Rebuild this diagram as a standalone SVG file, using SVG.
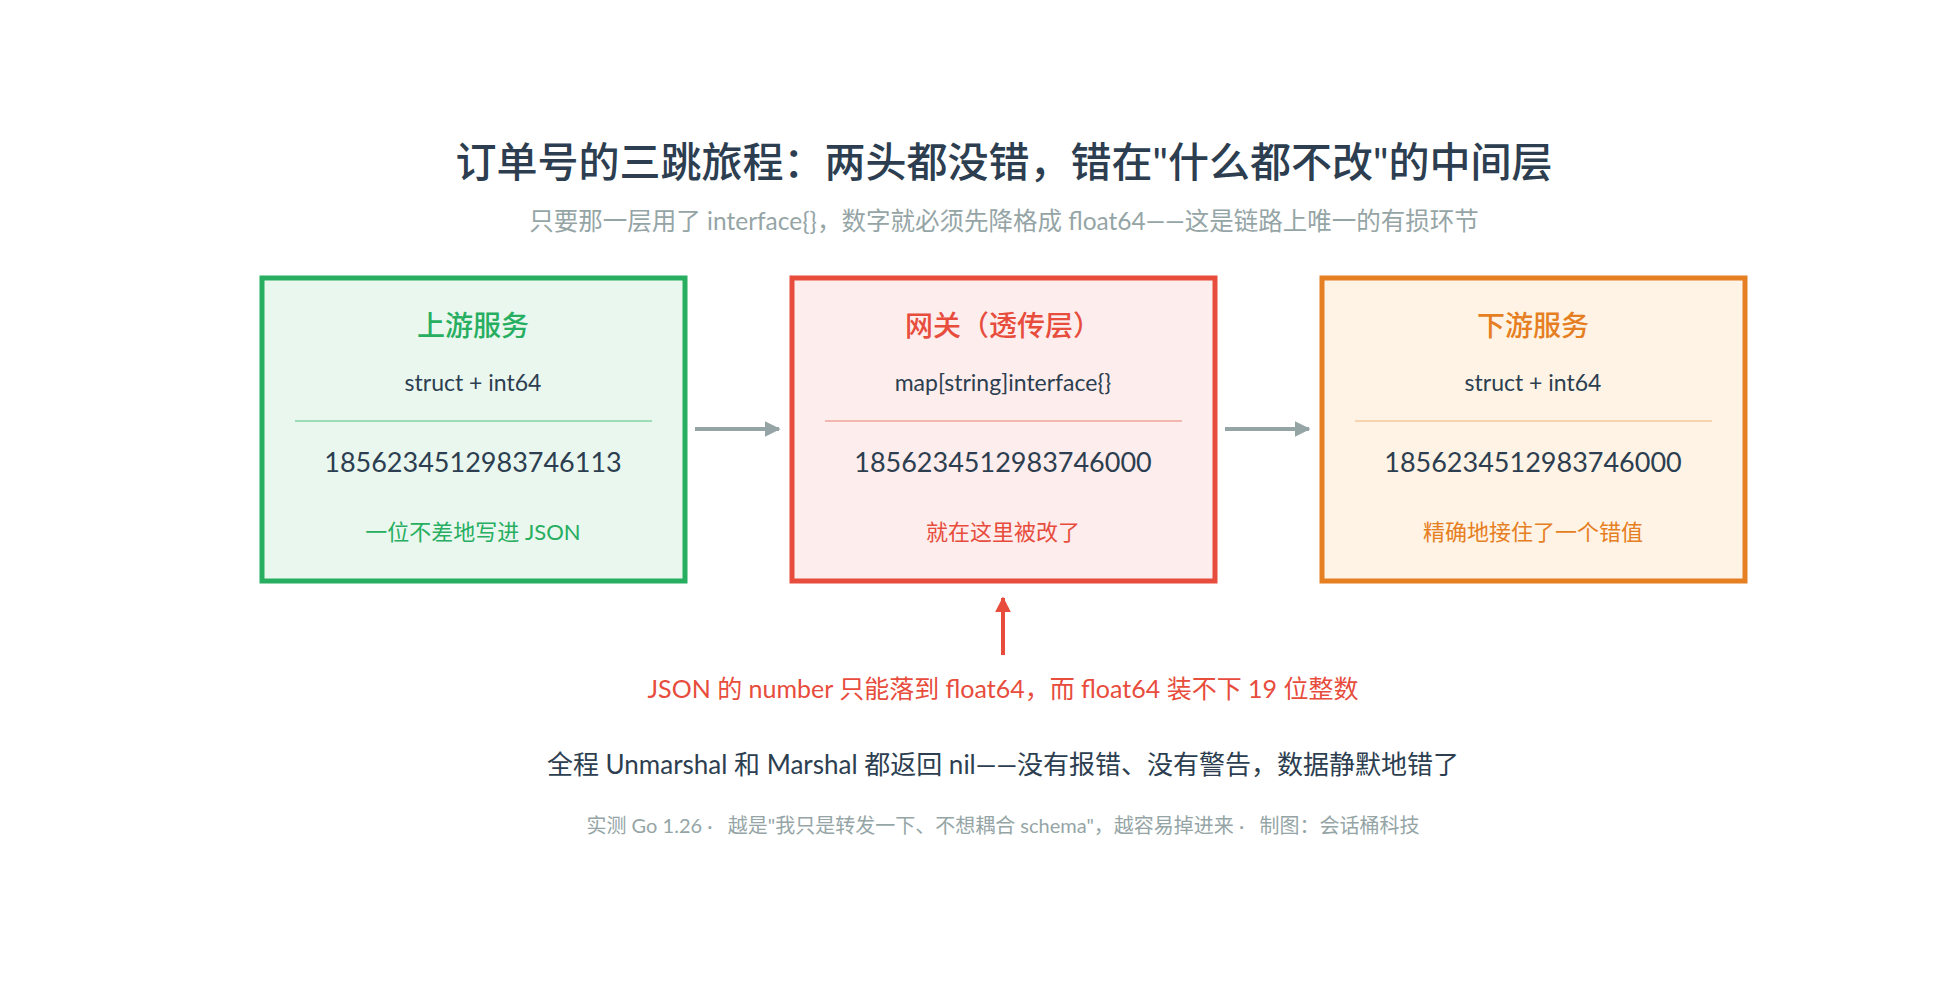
<svg xmlns="http://www.w3.org/2000/svg" width="1950" height="990" viewBox="0 0 1950 990">
<defs>
<style>
text{font-family:"Lato","Noto Sans CJK SC",sans-serif;text-anchor:middle}
.t{font-size:41px;font-weight:500;fill:#2c3e50}
.s{font-size:24.5px;fill:#95a5a6}
.h{font-size:28px;font-weight:500}
.m{font-size:23px;fill:#2c3e50}
.n{font-size:27px;fill:#2c3e50}
.f{font-size:22px}
.box{stroke-width:5}
</style>
<marker id="ag" viewBox="0 0 10 10" refX="9" refY="5" markerWidth="4" markerHeight="4" orient="auto"><path d="M0,0L10,5L0,10z" fill="#95a5a6"/></marker>
<marker id="ar" viewBox="0 0 10 10" refX="9" refY="5" markerWidth="4" markerHeight="4" orient="auto"><path d="M0,0L10,5L0,10z" fill="#e74c3c"/></marker>
</defs>
<rect width="1950" height="990" fill="#fff"/>
<text class="t" x="1004" y="177">订单号的三跳旅程：两头都没错，错在"什么都不改"的中间层</text>
<text class="s" x="1004" y="230">只要那一层用了 interface{}，数字就必须先降格成 float64——这是链路上唯一的有损环节</text>
<g id="upstream">
<rect class="box" x="262" y="278" width="423" height="303" fill="#e9f7ef" stroke="#27ae60"/>
<text class="h" x="473" y="336" fill="#27ae60">上游服务</text>
<text class="m" x="473" y="391">struct + int64</text>
<line x1="295" y1="421" x2="652" y2="421" stroke="#82d3a4" stroke-width="1.5"/>
<text class="n" x="473" y="472">1856234512983746113</text>
<text class="f" x="473" y="540" fill="#27ae60">一位不差地写进 JSON</text>
</g>
<g id="gateway">
<rect class="box" x="792" y="278" width="423" height="303" fill="#fdedec" stroke="#e74c3c"/>
<text class="h" x="1003" y="336" fill="#e74c3c">网关（透传层）</text>
<text class="m" x="1003" y="391">map[string]interface{}</text>
<line x1="825" y1="421" x2="1182" y2="421" stroke="#f1a49c" stroke-width="1.5"/>
<text class="n" x="1003" y="472">1856234512983746000</text>
<text class="f" x="1003" y="540" fill="#e74c3c">就在这里被改了</text>
</g>
<g id="downstream">
<rect class="box" x="1322" y="278" width="423" height="303" fill="#fef3e5" stroke="#e67e22"/>
<text class="h" x="1533" y="336" fill="#e67e22">下游服务</text>
<text class="m" x="1533" y="391">struct + int64</text>
<line x1="1355" y1="421" x2="1712" y2="421" stroke="#f5c99b" stroke-width="1.5"/>
<text class="n" x="1533" y="472">1856234512983746000</text>
<text class="f" x="1533" y="540" fill="#e67e22">精确地接住了一个错值</text>
</g>
<g id="connectors">
<line x1="695" y1="429" x2="779" y2="429" stroke="#95a5a6" stroke-width="4" marker-end="url(#ag)"/>
<line x1="1225" y1="429" x2="1309" y2="429" stroke="#95a5a6" stroke-width="4" marker-end="url(#ag)"/>
<line x1="1003" y1="655" x2="1003" y2="598" stroke="#e74c3c" stroke-width="4" marker-end="url(#ar)"/>
</g>
<text x="1003" y="698" font-size="25" fill="#e74c3c">JSON 的 number 只能落到 float64，而 float64 装不下 19 位整数</text>
<text x="1003" y="774" font-size="26" fill="#2c3e50">全程 Unmarshal 和 Marshal 都返回 nil——没有报错、没有警告，数据静默地错了</text>
<text x="1003" y="833" font-size="20" fill="#95a5a6" xml:space="preserve">实测 Go 1.26 ·   越是"我只是转发一下、不想耦合 schema"，越容易掉进来 ·   制图：会话桶科技</text>
</svg>
